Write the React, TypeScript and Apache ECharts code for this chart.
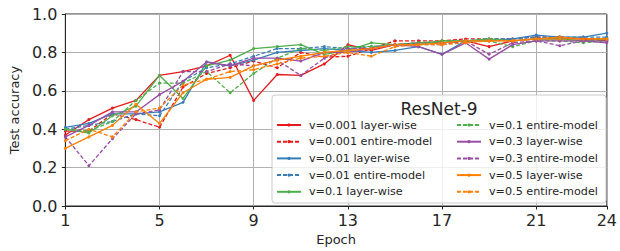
import React, { useEffect, useRef } from "react";
import * as echarts from "echarts";

const epochs = Array.from({ length: 24 }, (_, i) => String(i + 1));
const xTickLabels = ["1", "5", "9", "13", "17", "21", "24"];
const yTicks = [0, 0.2, 0.4, 0.6, 0.8, 1.0];

const lr001 = [0.37, 0.45, 0.51, 0.55, 0.68, 0.70, 0.73, 0.785, 0.55, 0.685, 0.68, 0.74, 0.84, 0.81, 0.84, 0.85, 0.85, 0.86, 0.83, 0.86, 0.87, 0.87, 0.87, 0.86];
const em001 = [0.39, 0.39, 0.48, 0.45, 0.41, 0.62, 0.69, 0.72, 0.755, 0.72, 0.80, 0.775, 0.78, 0.82, 0.86, 0.86, 0.86, 0.87, 0.87, 0.87, 0.88, 0.88, 0.87, 0.87];
const lr01 = [0.41, 0.43, 0.48, 0.48, 0.49, 0.54, 0.75, 0.73, 0.76, 0.80, 0.81, 0.82, 0.81, 0.80, 0.81, 0.83, 0.79, 0.86, 0.86, 0.87, 0.89, 0.88, 0.88, 0.90];
const em01 = [0.40, 0.42, 0.44, 0.48, 0.47, 0.65, 0.72, 0.74, 0.78, 0.82, 0.82, 0.83, 0.82, 0.83, 0.84, 0.85, 0.85, 0.86, 0.87, 0.87, 0.88, 0.88, 0.88, 0.88];
const lr1 = [0.40, 0.38, 0.47, 0.52, 0.68, 0.56, 0.73, 0.76, 0.82, 0.83, 0.84, 0.79, 0.81, 0.85, 0.84, 0.84, 0.86, 0.86, 0.87, 0.86, 0.87, 0.87, 0.86, 0.87];
const em1 = [0.40, 0.39, 0.44, 0.55, 0.64, 0.64, 0.70, 0.59, 0.69, 0.77, 0.82, 0.81, 0.83, 0.83, 0.84, 0.85, 0.86, 0.86, 0.86, 0.83, 0.86, 0.86, 0.85, 0.86];
const lr3 = [0.36, 0.42, 0.49, 0.49, 0.58, 0.65, 0.75, 0.73, 0.77, 0.77, 0.755, 0.80, 0.80, 0.82, 0.84, 0.83, 0.79, 0.85, 0.765, 0.84, 0.86, 0.86, 0.86, 0.85];
const em3 = [0.36, 0.21, 0.35, 0.48, 0.50, 0.70, 0.70, 0.74, 0.73, 0.76, 0.68, 0.77, 0.82, 0.82, 0.84, 0.84, 0.84, 0.86, 0.79, 0.85, 0.86, 0.835, 0.86, 0.86];
const lr5 = [0.30, 0.36, 0.42, 0.53, 0.43, 0.59, 0.66, 0.67, 0.73, 0.76, 0.78, 0.80, 0.81, 0.82, 0.84, 0.84, 0.85, 0.86, 0.86, 0.86, 0.87, 0.88, 0.87, 0.87];
const em5 = [0.34, 0.40, 0.36, 0.49, 0.51, 0.63, 0.66, 0.70, 0.71, 0.74, 0.77, 0.78, 0.80, 0.78, 0.83, 0.84, 0.84, 0.85, 0.86, 0.86, 0.87, 0.87, 0.87, 0.87];

const seriesNames = [
  "v=0.001 layer-wise",
  "v=0.001 entire-model",
  "v=0.01 layer-wise",
  "v=0.01 entire-model",
  "v=0.1 layer-wise",
  "v=0.1 entire-model",
  "v=0.3 layer-wise",
  "v=0.3 entire-model",
  "v=0.5 layer-wise",
  "v=0.5 entire-model",
];
const seriesData = [lr001, em001, lr01, em01, lr1, em1, lr3, em3, lr5, em5];
const seriesColors = ["#e41a1c", "#e41a1c", "#377eb8", "#377eb8", "#4daf4a", "#4daf4a", "#984ea3", "#984ea3", "#ff7f00", "#ff7f00"];

const FONT = "DejaVu Sans";

export default function App() {
  const ref = useRef<HTMLDivElement>(null);
  useEffect(() => {
    if (!ref.current) return;
    const chart = echarts.init(ref.current, null, { renderer: "svg" });
    const tickIdx = xTickLabels.map((l) => epochs.indexOf(l));
    const showIdx = (i: number) => tickIdx.indexOf(i) >= 0;
    const legendCommon = {
      orient: "vertical" as const,
      top: 119,
      padding: 0,
      itemWidth: 24,
      itemHeight: 4,
      itemGap: 4.7,
      z: 20,
      selectedMode: false,
      textStyle: { fontFamily: FONT, fontSize: 11.2, color: "#262626", lineHeight: 12, padding: [0, 0, 0, 3] },
    };
    chart.setOption({
      animation: false,
      backgroundColor: "#ffffff",
      grid: { left: 61, right: 10, top: 14, bottom: 41.7, show: true, borderColor: "#262626", borderWidth: 1 },
      xAxis: {
        type: "category",
        data: epochs,
        boundaryGap: false,
        name: "Epoch",
        nameLocation: "middle",
        nameGap: 27,
        nameTextStyle: { fontFamily: FONT, fontSize: 13, color: "#262626" },
        axisLine: { lineStyle: { color: "#262626", width: 1 } },
        axisTick: { interval: (i: number) => showIdx(i), length: 3.5, lineStyle: { color: "#262626" } },
        axisLabel: {
          interval: (i: number) => showIdx(i),
          fontFamily: FONT,
          fontSize: 16,
          color: "#262626",
          margin: 6,
        },
        splitLine: { show: true, interval: (i: number) => showIdx(i), lineStyle: { color: "#b0b0b0", width: 1 } },
      },
      yAxis: {
        type: "value",
        min: 0,
        max: 1,
        interval: 0.2,
        name: "Test accuracy",
        nameLocation: "middle",
        nameGap: 35,
        nameTextStyle: { fontFamily: FONT, fontSize: 13, color: "#262626" },
        axisLine: { show: true, lineStyle: { color: "#262626", width: 1 } },
        axisTick: { show: true, length: 3.5, lineStyle: { color: "#262626" } },
        axisLabel: {
          fontFamily: FONT,
          fontSize: 16,
          color: "#262626",
          margin: 8,
          formatter: (v: number) => (yTicks.some((t) => Math.abs(t - v) < 1e-6) ? v.toFixed(1) : ""),
        },
        splitLine: { show: true, lineStyle: { color: "#b0b0b0", width: 1 } },
      },
      legend: [
        { ...legendCommon, left: 276, data: seriesNames.slice(0, 5) },
        { ...legendCommon, left: 456, data: seriesNames.slice(5) },
      ],
      graphic: [
        {
          type: "rect",
          z: 10,
          shape: { x: 272, y: 95, width: 334, height: 108, r: 3 },
          style: { fill: "rgba(255,255,255,0.8)", stroke: "#cccccc", lineWidth: 1 },
        },
        {
          type: "text",
          z: 11,
          x: 439,
          y: 109,
          style: { text: "ResNet-9", fontFamily: FONT, fontSize: 17, fill: "#262626", textAlign: "center", textVerticalAlign: "middle" },
        },
      ],
      series: seriesNames.map((name, i) => ({
        name,
        type: "line",
        data: seriesData[i],
        symbol: "circle",
        symbolSize: 3,
        color: seriesColors[i],
        itemStyle: { color: seriesColors[i] },
        lineStyle: { width: 1.3, color: seriesColors[i], type: i % 2 === 1 ? [4, 2] : "solid" },
        z: 2,
      })),
    });
    return () => chart.dispose();
  }, []);
  return <div ref={ref} style={{ width: 620, height: 251, position: "fixed", left: 0, top: 0 }} />;
}
